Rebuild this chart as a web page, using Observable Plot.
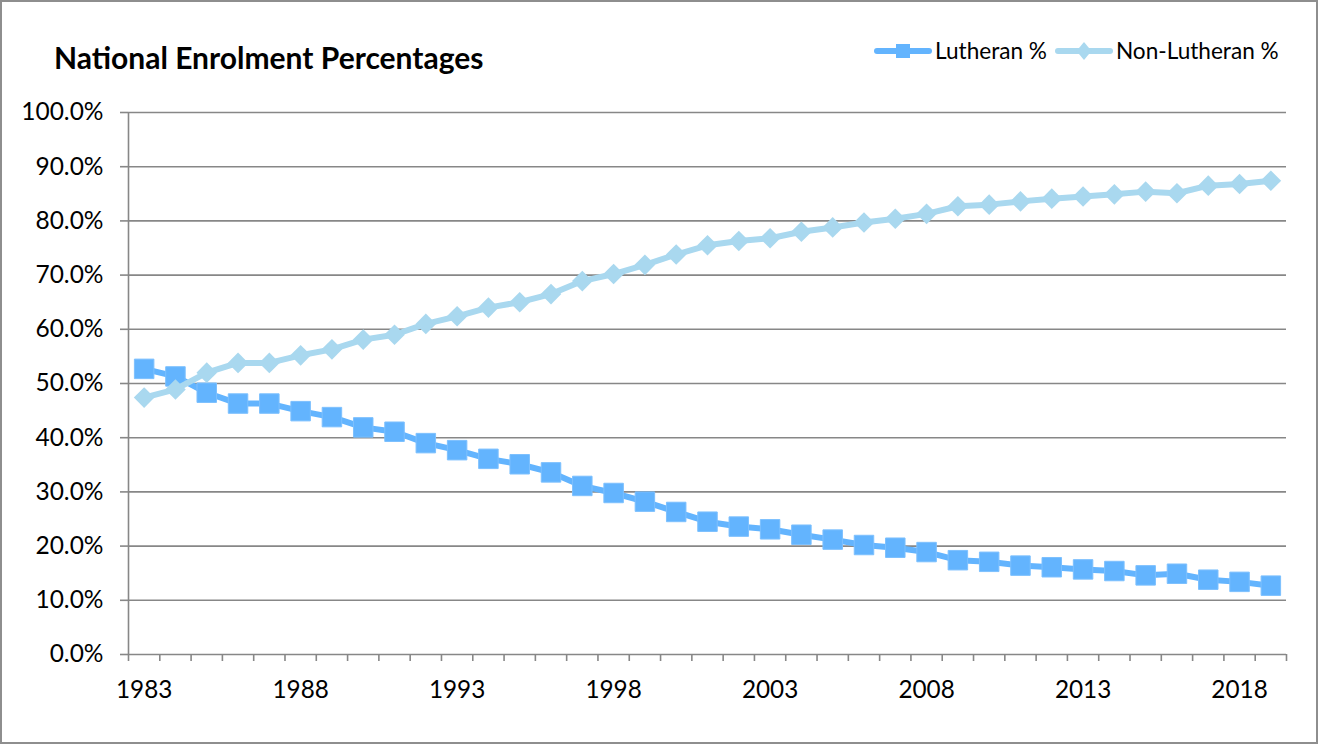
<!DOCTYPE html>
<html><head><meta charset="utf-8">
<script src="https://cdn.jsdelivr.net/npm/d3@7"></script>
<script src="https://cdn.jsdelivr.net/npm/@observablehq/plot@0.6"></script>
<style>
html,body{margin:0;padding:0;background:#fff;}
#chart{position:relative;width:1318px;height:744px;box-sizing:border-box;border:2px solid #8e8e8e;font-family:Lato,sans-serif;color:#000;overflow:hidden;}
#header{position:relative;height:93px;}
#title{position:absolute;left:52px;top:37px;font-size:30px;font-weight:bold;line-height:36px;white-space:nowrap;}
#legend{position:absolute;left:872px;top:35px;display:flex;align-items:center;font-size:22.6px;line-height:28px;white-space:nowrap;}
#legend .item{display:flex;align-items:center;margin-right:8px;}
#legend svg{display:block;margin-right:3px;}
#plot svg{display:block;}
</style></head>
<body>
<div id="chart">
  <div id="header"><div id="title"></div><div id="legend"></div></div>
  <div id="plot"></div>
</div>
<script>
const titleText = "National Enrolment Percentages";
const seriesNames = ["Lutheran %", "Non-Lutheran %"];
const seriesColors = ["#63b4fe", "#a9d8ef"];
const years = [1983,1984,1985,1986,1987,1988,1989,1990,1991,1992,1993,1994,1995,1996,1997,1998,1999,2000,2001,2002,2003,2004,2005,2006,2007,2008,2009,2010,2011,2012,2013,2014,2015,2016,2017,2018,2019];
const lutheran = [52.7,51.3,48.3,46.3,46.3,44.9,43.8,41.9,41.1,39.0,37.7,36.1,35.1,33.6,31.1,29.8,28.2,26.3,24.5,23.6,23.1,22.1,21.2,20.2,19.7,18.9,17.4,17.1,16.4,16.1,15.7,15.4,14.6,14.9,13.8,13.4,12.7];
const nonLutheran = [47.4,48.9,52.0,53.8,53.8,55.2,56.3,58.1,59.0,61.0,62.4,64.0,65.0,66.5,68.9,70.2,71.9,73.8,75.5,76.3,76.8,78.0,78.8,79.7,80.4,81.3,82.7,83.0,83.6,84.1,84.5,84.9,85.4,85.1,86.5,86.8,87.4];
const yTicks = [0,10,20,30,40,50,60,70,80,90,100];
const xTickLabels = [1983,1988,1993,1998,2003,2008,2013,2018];

document.getElementById("title").textContent = titleText;

// legend
const legend = document.getElementById("legend");
const symbols = ["square","diamond"];
seriesNames.forEach((name,i)=>{
  const item = document.createElement("div"); item.className="item";
  const ns="http://www.w3.org/2000/svg";
  const s=document.createElementNS(ns,"svg"); s.setAttribute("width","58"); s.setAttribute("height","22");
  const l=document.createElementNS(ns,"line");
  l.setAttribute("x1","3");l.setAttribute("x2","55");l.setAttribute("y1","11");l.setAttribute("y2","11");
  l.setAttribute("stroke",seriesColors[i]);l.setAttribute("stroke-width","6");l.setAttribute("stroke-linecap","round");
  s.appendChild(l);
  const m=document.createElementNS(ns,"path");
  m.setAttribute("d", symbols[i]==="square" ? "M22,4h14v14h-14z" : "M29,2l7.5,9l-7.5,9l-7.5,-9z");
  m.setAttribute("fill",seriesColors[i]);
  s.appendChild(m);
  const t=document.createElement("span"); t.textContent=name;
  item.appendChild(s); item.appendChild(t); legend.appendChild(item);
});

const rows = years.map((y,i)=>({year:y, value:lutheran[i], series:seriesNames[0]}));
const rows2 = years.map((y,i)=>({year:y, value:nonLutheran[i], series:seriesNames[1]}));
const boundaries = years.map(y=>y-0.5).concat([years[years.length-1]+0.5]);
const grid = "#878787";

const plot = Plot.plot({
  width: 1314,
  height: 647,
  marginLeft: 126,
  marginRight: 30,
  marginTop: 17,
  marginBottom: 88,
  style: {fontFamily: "Lato, sans-serif", fontSize: "24px", color: "#000", background: "#fff", overflow: "visible"},
  x: {type: "linear", domain: [boundaries[0], boundaries[boundaries.length-1]]},
  y: {domain: [0, 100]},
  marks: [
    Plot.ruleY(yTicks, {stroke: grid, strokeWidth: 1.6}),
    Plot.ruleX([boundaries[0]], {y1: 0, y2: 100, stroke: grid, strokeWidth: 1.6}),
    Plot.axisY({ticks: yTicks, tickFormat: d => d.toFixed(1) + "%", tickSize: 8, tickPadding: 17, stroke: grid, strokeWidth: 1.6, fill: "#000", fontSize: 24.5, label: null}),
    Plot.axisX({ticks: boundaries, tickSize: 7, tickFormat: () => "", stroke: grid, strokeWidth: 1.6, label: null}),
    Plot.axisX({ticks: xTickLabels, tickSize: 0, tickPadding: 26, tickFormat: d => String(d), fill: "#000", fontSize: 24.3, label: null}),
    Plot.line(rows, {x: "year", y: "value", stroke: seriesColors[0], strokeWidth: 6}),
    Plot.dot(rows, {x: "year", y: "value", symbol: "square", r: 11, fill: seriesColors[0], stroke: "#7dc0fe", strokeWidth: 1}),
    Plot.line(rows2, {x: "year", y: "value", stroke: seriesColors[1], strokeWidth: 6}),
    Plot.dot(rows2, {x: "year", y: "value", symbol: "diamond2", r: 9.3, fill: seriesColors[1]})
  ]
});
document.getElementById("plot").appendChild(plot);
</script>
</body></html>
